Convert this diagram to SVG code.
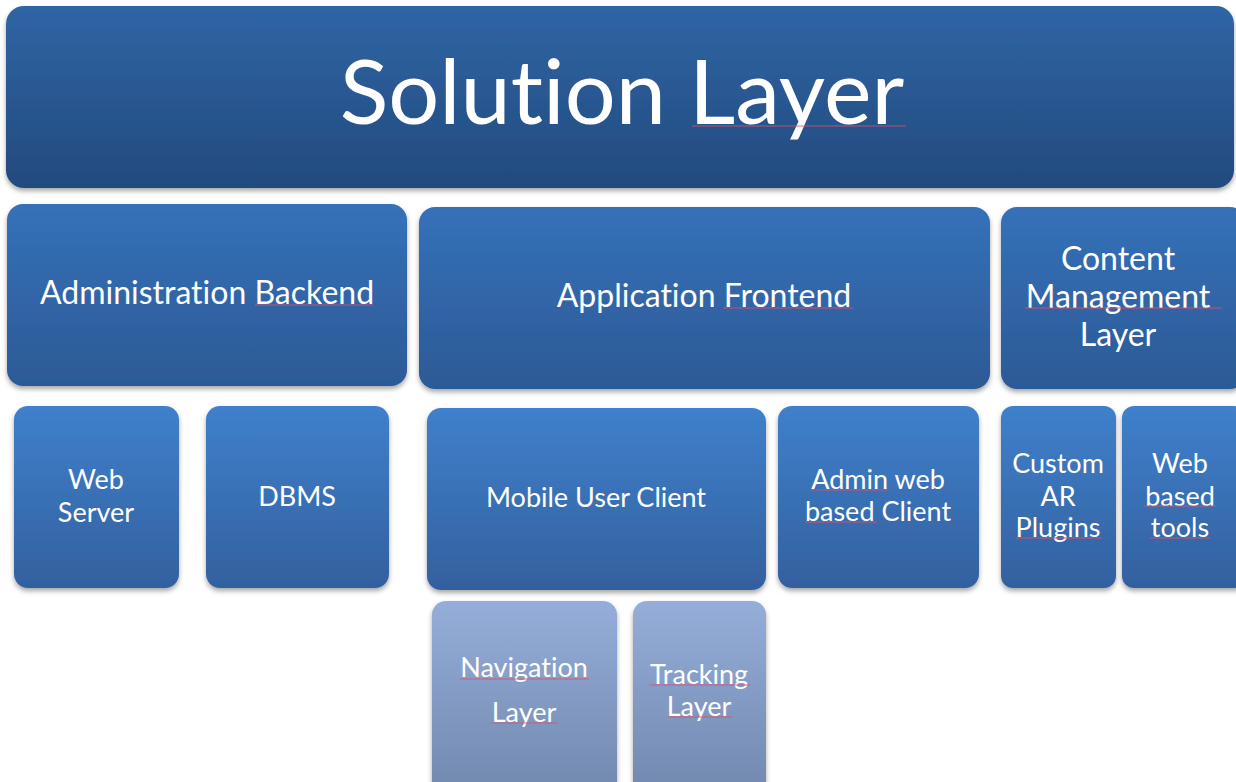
<svg xmlns="http://www.w3.org/2000/svg" width="1236" height="782" viewBox="0 0 1236 782">
  <defs>
    <linearGradient id="gTop" x1="0" y1="0" x2="0" y2="1">
      <stop offset="0" stop-color="#2f65a5"/>
      <stop offset="1" stop-color="#234a7d"/>
    </linearGradient>
    <linearGradient id="gMid" x1="0" y1="0" x2="0" y2="1">
      <stop offset="0" stop-color="#3571b9"/>
      <stop offset="1" stop-color="#2c5a96"/>
    </linearGradient>
    <linearGradient id="gLow" x1="0" y1="0" x2="0" y2="1">
      <stop offset="0" stop-color="#3f80cc"/>
      <stop offset="1" stop-color="#33609e"/>
    </linearGradient>
    <linearGradient id="gSub" x1="0" y1="0" x2="0" y2="1">
      <stop offset="0" stop-color="#95aed9"/>
      <stop offset="1" stop-color="#7087ad"/>
    </linearGradient>
    <filter id="shadow" x="-5%" y="-5%" width="110%" height="115%">
      <feDropShadow dx="0" dy="3" stdDeviation="2.5" flood-color="#000" flood-opacity="0.35"/>
    </filter>
    <style>
      rect.box { filter: url(#shadow); }
      text { font-family: Lato, "Noto Sans", "Liberation Sans", sans-serif; fill: #ffffff; text-anchor: middle; font-variant-ligatures: none; }
      .t0 { font-size: 90px; }
      .t1 { font-size: 32px; }
      .t2 { font-size: 27px; }
      line.sp { stroke: #d9536a; stroke-width: 1.2; stroke-opacity: 0.85; }
    </style>
  </defs>

  <rect width="1236" height="782" fill="#ffffff"/>

  <g id="solution-layer">
    <rect class="box" x="6" y="6" width="1228" height="182" rx="18" fill="url(#gTop)"/>
    <text class="t0" x="622" y="124">Solution Layer</text>
    <line class="sp" x1="692" y1="126" x2="906" y2="126"/>
  </g>

  <g id="administration-backend">
    <rect class="box" x="7" y="204" width="400" height="182" rx="16" fill="url(#gMid)"/>
    <text class="t1" x="207" y="304">Administration Backend</text>
    <line class="sp" x1="255" y1="305" x2="373" y2="305" stroke-opacity="0.4"/>
  </g>

  <g id="application-frontend">
    <rect class="box" x="419" y="207" width="571" height="182" rx="16" fill="url(#gMid)"/>
    <text class="t1" x="704" y="307">Application Frontend</text>
    <line class="sp" x1="723" y1="308" x2="853" y2="308"/>
  </g>

  <g id="content-management-layer">
    <rect class="box" x="1001" y="207" width="245" height="182" rx="16" fill="url(#gMid)"/>
    <text class="t1" x="1118" y="270">Content</text>
    <text class="t1" x="1118" y="308">Management</text>
    <text class="t1" x="1118" y="346">Layer</text>
    <line class="sp" x1="1025" y1="308" x2="1222" y2="308"/>
  </g>

  <g id="web-server">
    <rect class="box" x="14" y="406" width="165" height="182" rx="14" fill="url(#gLow)"/>
    <text class="t2" x="96" y="489">Web</text>
    <text class="t2" x="96" y="522">Server</text>
  </g>

  <g id="dbms">
    <rect class="box" x="206" y="406" width="183" height="182" rx="14" fill="url(#gLow)"/>
    <text class="t2" x="297" y="506">DBMS</text>
  </g>

  <g id="mobile-user-client">
    <rect class="box" x="427" y="408" width="339" height="182" rx="14" fill="url(#gLow)"/>
    <text class="t2" x="596" y="507">Mobile User Client</text>
  </g>

  <g id="admin-web-client">
    <rect class="box" x="778" y="406" width="201" height="182" rx="14" fill="url(#gLow)"/>
    <text class="t2" x="878" y="489">Admin web</text>
    <text class="t2" x="878" y="521">based Client</text>
    <line class="sp" x1="811" y1="490" x2="888" y2="490"/>
    <line class="sp" x1="805" y1="522" x2="877" y2="522"/>
  </g>

  <g id="custom-ar-plugins">
    <rect class="box" x="1001" y="406" width="115" height="182" rx="12" fill="url(#gLow)"/>
    <text class="t2" x="1058" y="473">Custom</text>
    <text class="t2" x="1058" y="506">AR</text>
    <text class="t2" x="1058" y="537">Plugins</text>
    <line class="sp" x1="1016" y1="538" x2="1102" y2="538"/>
  </g>

  <g id="web-based-tools">
    <rect class="box" x="1122" y="406" width="124" height="182" rx="12" fill="url(#gLow)"/>
    <text class="t2" x="1180" y="473">Web</text>
    <text class="t2" x="1180" y="506">based</text>
    <text class="t2" x="1180" y="537">tools</text>
    <line class="sp" x1="1144" y1="506" x2="1216" y2="506"/>
    <line class="sp" x1="1150" y1="538" x2="1210" y2="538"/>
  </g>

  <g id="navigation-layer">
    <rect class="box" x="432" y="601" width="185" height="200" rx="14" fill="url(#gSub)"/>
    <text class="t2" x="524" y="677">Navigation</text>
    <text class="t2" x="524" y="722">Layer</text>
    <line class="sp" x1="460" y1="679" x2="589" y2="679"/>
    <line class="sp" x1="492" y1="723" x2="557" y2="723"/>
  </g>

  <g id="tracking-layer">
    <rect class="box" x="633" y="601" width="133" height="200" rx="14" fill="url(#gSub)"/>
    <text class="t2" x="699" y="684">Tracking</text>
    <text class="t2" x="699" y="716">Layer</text>
    <line class="sp" x1="649" y1="685" x2="750" y2="685"/>
    <line class="sp" x1="668" y1="717" x2="732" y2="717"/>
  </g>

  <g id="connectors"/>
</svg>
